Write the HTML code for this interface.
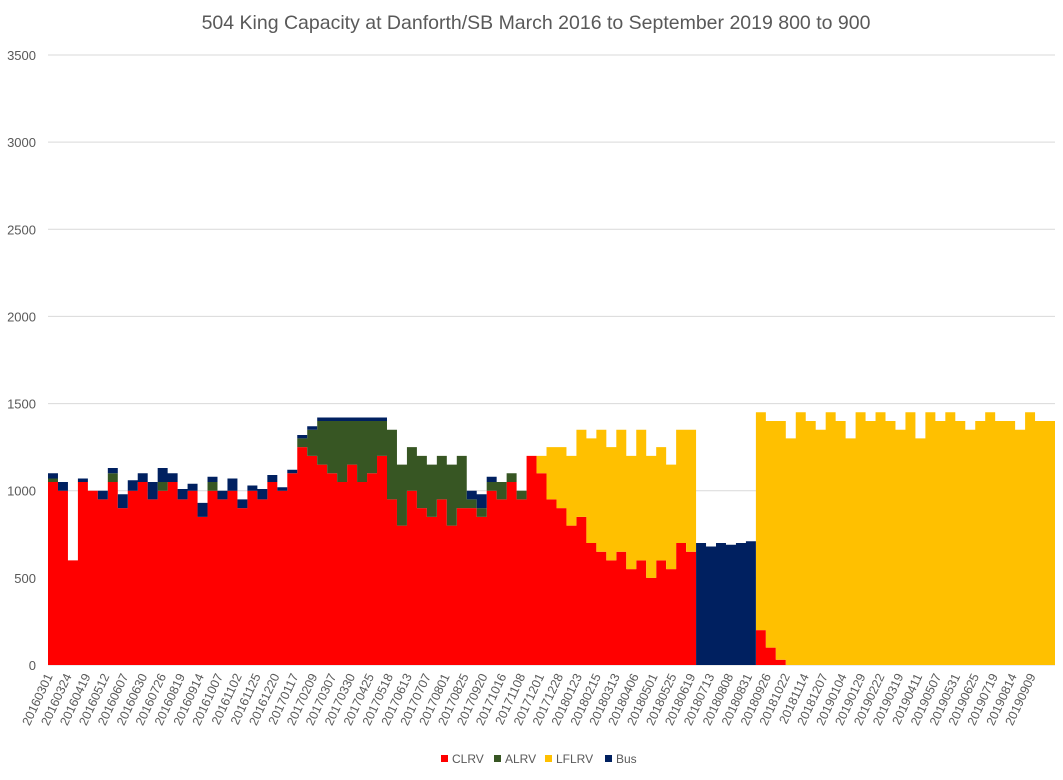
<!DOCTYPE html>
<html><head><meta charset="utf-8"><style>
body{margin:0;background:#fff;font-family:"Liberation Sans",sans-serif;}
svg text{font-family:"Liberation Sans",sans-serif;fill:#595959;}
</style></head><body>
<svg id="chart" width="1063" height="775">
<text x="536" y="29" text-anchor="middle" font-size="19.5">504 King Capacity at Danforth/SB March 2016 to September 2019  800 to 900</text>
<g id="grid"></g><g id="areas"></g><g id="yt"></g><g id="xt"></g>
<g>
<rect x="441" y="755" width="7" height="7" fill="#ff0000"/><text x="452" y="763" font-size="12">CLRV</text>
<rect x="494" y="755" width="7" height="7" fill="#375623"/><text x="505" y="763" font-size="12">ALRV</text>
<rect x="545" y="755" width="7" height="7" fill="#ffc000"/><text x="556" y="763" font-size="12">LFLRV</text>
<rect x="605" y="755" width="7" height="7" fill="#002060"/><text x="616" y="763" font-size="12">Bus</text>
</g>
</svg>
<script>
const clrv=[1050,1000,600,1050,1000,950,1050,900,1000,1050,950,1000,1050,950,1000,850,1000,950,1000,900,1000,950,1050,1000,1100,1250,1200,1150,1100,1050,1150,1050,1100,1200,950,800,1000,900,850,950,800,900,900,850,1000,950,1050,950,1200,1100,950,900,800,850,700,650,600,650,550,600,500,600,550,700,650,0,0,0,0,0,0,200,100,30,0,0,0,0,0,0,0,0,0,0,0,0,0,0,0,0,0,0,0,0,0,0,0,0,0,0,0];
const alrv=[20,0,0,0,0,0,50,0,0,0,0,50,0,0,0,0,50,0,0,0,0,0,0,0,0,50,150,250,300,350,250,350,300,200,400,350,250,300,300,250,350,300,50,50,50,100,50,50,0,0,0,0,0,0,0,0,0,0,0,0,0,0,0,0,0,0,0,0,0,0,0,0,0,0,0,0,0,0,0,0,0,0,0,0,0,0,0,0,0,0,0,0,0,0,0,0,0,0,0,0,0];
const lflrv=[0,0,0,0,0,0,0,0,0,0,0,0,0,0,0,0,0,0,0,0,0,0,0,0,0,0,0,0,0,0,0,0,0,0,0,0,0,0,0,0,0,0,0,0,0,0,0,0,0,100,300,350,400,500,600,700,650,700,650,750,700,650,600,650,700,0,0,0,0,0,0,1250,1300,1370,1300,1450,1400,1350,1450,1400,1300,1450,1400,1450,1400,1350,1450,1300,1450,1400,1450,1400,1350,1400,1450,1400,1400,1350,1450,1400,1400];
const bus=[30,50,0,20,0,50,30,80,60,50,100,80,50,60,40,80,30,50,70,50,30,60,40,20,20,20,20,20,20,20,20,20,20,20,0,0,0,0,0,0,0,0,50,80,30,0,0,0,0,0,0,0,0,0,0,0,0,0,0,0,0,0,0,0,0,700,680,700,690,700,710,0,0,0,0,0,0,0,0,0,0,0,0,0,0,0,0,0,0,0,0,0,0,0,0,0,0,0,0,0,0];
const yTicks=[0,500,1000,1500,2000,2500,3000,3500];
const xLabels=["20160301","20160324","20160419","20160512","20160607","20160630","20160726","20160819","20160914","20161007","20161102","20161125","20161220","20170117","20170209","20170307","20170330","20170425","20170518","20170613","20170707","20170801","20170825","20170920","20171016","20171108","20171201","20171228","20180123","20180215","20180313","20180406","20180501","20180525","20180619","20180713","20180808","20180831","20180926","20181022","20181114","20181207","20190104","20190129","20190222","20190319","20190411","20190507","20190531","20190625","20190719","20190814","20190909"];
const NS="http://www.w3.org/2000/svg";
const X0=48,X1=1055,Y0=665,Y1=55;
const y=v=>Y0-(v/3500)*(Y0-Y1);
const x=i=>X0+i*(X1-X0)/clrv.length;
function mk(t,a,p){const e=document.createElementNS(NS,t);for(const k in a)e.setAttribute(k,a[k]);p.appendChild(e);return e;}
const grid=document.getElementById('grid'),yt=document.getElementById('yt'),xt=document.getElementById('xt'),areas=document.getElementById('areas');
yTicks.forEach(v=>{
 const l=mk('line',{x1:X0,x2:X1,y1:y(v),y2:y(v),stroke:'#d9d9d9','stroke-width':1},grid);
 
 
 const t=mk('text',{x:36,y:y(v)+5,'text-anchor':'end','font-size':13},yt);t.textContent=v;
 
 
});
const series=[[clrv,'#ff0000','clrv'],[alrv,'#375623','alrv'],[lflrv,'#ffc000','lflrv'],[bus,'#002060','bus']];
const base=clrv.map(()=>0);
series.forEach(([arr,col,nm])=>{
 const top=arr.map((v,i)=>base[i]+v);
 const n=arr.length;
 let d='M'+x(0)+','+y(top[0]);
 for(let i=0;i<n;i++)d+=' L'+x(i)+','+y(top[i])+' L'+x(i+1)+','+y(top[i]);
 for(let i=n-1;i>=0;i--)d+=' L'+x(i+1)+','+y(base[i])+' L'+x(i)+','+y(base[i]);
 d+='Z';
 const p=mk('path',{d:d,fill:col},areas);
 
 
 top.forEach((v,i)=>base[i]=v);
});
xLabels.forEach((s,i)=>{
 const lx=53+i*(1036-53)/(xLabels.length-1);
 const t=mk('text',{x:lx,y:676,'text-anchor':'end','font-size':12.5,transform:`rotate(-65 ${lx} 676)`},xt);
 t.textContent=s;
 
 
});
</script>
</body></html>
